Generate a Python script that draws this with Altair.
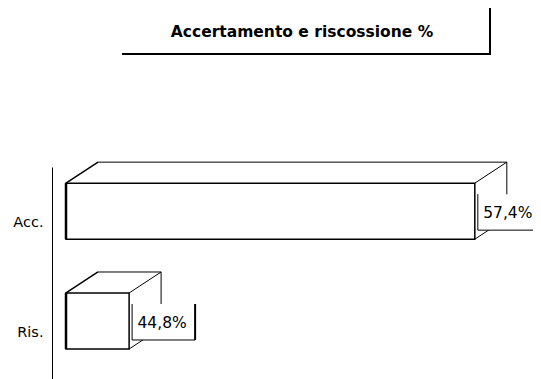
import altair as alt
import pandas as pd

TITLE = "Accertamento e riscossione %"
CATS = ["Acc.", "Ris."]
VALUES = [57.4, 44.8]
LABELS = ["57,4%", "44,8%"]
X_MIN = 42.5
X_MAX = 58.5

df = pd.DataFrame({"cat": CATS, "value": VALUES, "label": LABELS})
df["start"] = X_MIN
title_df = pd.DataFrame({"t": [TITLE]})

DX, DY = 32, -21
FONT = "DejaVu Sans"

yscale = alt.Scale(domain=CATS, paddingInner=0.49, paddingOuter=0.21, align=0.35)
yaxis = alt.Axis(title=None, domainColor="black", domainWidth=1, ticks=False, grid=False,
                 labelFont=FONT, labelFontSize=14.5, labelColor="black", labelPadding=9,
                 offset=14, labelOffset=12)
xscale = alt.Scale(domain=[X_MIN, X_MAX], zero=False, nice=False)


def Y(bp=None):
    if bp is None:
        return alt.Y("cat:N", scale=yscale, axis=yaxis)
    return alt.Y("cat:N", scale=yscale, axis=yaxis, bandPosition=bp)


def Y2(bp):
    return alt.Y2("cat:N", bandPosition=bp)


def X(f):
    return alt.X(f + ":Q", scale=xscale, axis=None)


base = alt.Chart(df)
line = dict(color="black", strokeWidth=1)

# hidden-line-free 3D edges
back_top = base.mark_rule(xOffset=DX, x2Offset=DX, yOffset=DY, **line).encode(
    x=X("start"), x2="value", y=Y(0))
back_right = base.mark_rule(xOffset=DX, yOffset=DY, y2Offset=DY, **line).encode(
    x=X("value"), y=Y(0), y2=Y2(1))
diag_tl = base.mark_rule(x2Offset=DX, y2Offset=DY, color="black", strokeWidth=1.5).encode(
    x=X("start"), x2="start", y=Y(0), y2=Y2(0))
diag_tr = base.mark_rule(x2Offset=DX, y2Offset=DY, **line).encode(
    x=X("value"), x2="value", y=Y(0), y2=Y2(0))
diag_br = base.mark_rule(x2Offset=DX, y2Offset=DY, **line).encode(
    x=X("value"), x2="value", y=Y(1), y2=Y2(1))

front = base.mark_bar(fill="white", stroke="black", strokeWidth=1.5).encode(
    x=X("value"), x2="start", y=Y())
front_left = base.mark_rule(color="black", strokeWidth=2.5).encode(
    x=X("start"), y=Y(0), y2=Y2(1))

# value label boxes
BL, BR, BT, BB = 3, 66, 11, 47
box_fill = base.mark_bar(fill="white", xOffset=BL, x2Offset=BR, yOffset=1, size=36).encode(
    x=X("value"), x2="value", y=Y())
box_left = base.mark_rule(xOffset=BL, yOffset=BT, y2Offset=BB, **line).encode(
    x=X("value"), y=Y(0), y2=Y2(0))
box_bottom = base.mark_rule(xOffset=BL, x2Offset=BR, yOffset=BB, **line).encode(
    x=X("value"), x2="value", y=Y(0))
box_right = base.mark_rule(xOffset=BR, yOffset=BT, y2Offset=BB, color="black", strokeWidth=2).encode(
    x=X("value"), y=Y(0), y2=Y2(0))
value_text = base.mark_text(font=FONT, fontSize=15.5, color="black", dx=33, dy=2,
                            align="center", baseline="middle").encode(
    x=X("value"), y=Y(), text="label")

# title with its framed shadow
tbase = alt.Chart(title_df)
title_text = tbase.mark_text(font=FONT, fontSize=15.5, fontWeight="bold", color="black",
                             align="center", baseline="middle").encode(
    x=alt.value(236), y=alt.value(-135), text="t")
title_bottom = tbase.mark_rule(color="black", strokeWidth=2).encode(
    x=alt.value(56), x2=alt.value(424), y=alt.value(-113))
title_right = tbase.mark_rule(color="black", strokeWidth=2).encode(
    x=alt.value(424), y=alt.value(-159), y2=alt.value(-112))

chart = alt.layer(
    back_top, back_right, diag_tl, diag_tr, diag_br, front, front_left,
    box_fill, box_left, box_bottom, box_right, value_text,
    title_text, title_bottom, title_right,
).properties(
    width=439, height=212, autosize="none",
    padding={"left": 58, "top": 159, "right": 28, "bottom": 0},
).configure_view(stroke=None)

chart.save("out.html", embed_options={"renderer": "svg", "actions": False})
